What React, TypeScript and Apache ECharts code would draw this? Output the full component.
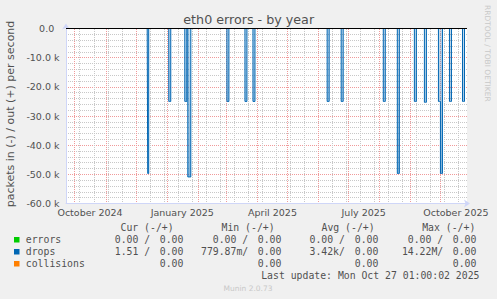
import React, { useEffect, useRef } from 'react';
import * as echarts from 'echarts';

const DAY = 86400000;
const rangeStart = Date.UTC(2024, 8, 22, 1, 0, 0);
const rangeDays = 400;
const rangeEnd = rangeStart + rangeDays * DAY;

// drops (in) per day, packets/s; plotted as negative (in = -)
const dropDates = [
  '2024-12-13',
  '2025-01-03', '2025-01-04',
  '2025-01-19', '2025-01-20',
  '2025-01-22', '2025-01-23', '2025-01-24',
  '2025-03-02', '2025-03-03',
  '2025-03-20', '2025-03-21',
  '2025-03-28', '2025-03-29',
  '2025-06-10', '2025-06-11',
  '2025-06-24', '2025-06-25',
  '2025-08-05', '2025-08-06',
  '2025-08-19', '2025-08-20',
  '2025-09-05', '2025-09-06',
  '2025-09-15', '2025-09-16',
  '2025-09-29', '2025-09-30',
  '2025-10-01', '2025-10-02',
  '2025-10-10', '2025-10-11',
  '2025-10-23', '2025-10-24',
];
const dropInValues = [
  49700,
  25000, 25000,
  25000, 25000,
  50900, 50900, 50900,
  25000, 25000,
  25000, 25000,
  25000, 25000,
  25000, 25000,
  25000, 25000,
  25000, 25000,
  49700, 49700,
  25000, 25000,
  25300, 25300,
  25000, 25000,
  49700, 49700,
  25000, 25000,
  25000, 25000,
];

const monthStarts = [
  '2024-10-01', '2024-11-01', '2024-12-01', '2025-01-01', '2025-02-01', '2025-03-01',
  '2025-04-01', '2025-05-01', '2025-06-01', '2025-07-01', '2025-08-01', '2025-09-01', '2025-10-01',
];
const firstMinorGrid = '2024-10-06';
const xLabelDates = ['2024-10-16', '2025-01-16', '2025-04-16', '2025-07-16', '2025-10-16'];
const monthNames = ['January', 'February', 'March', 'April', 'May', 'June', 'July', 'August', 'September', 'October', 'November', 'December'];

const legendHeaders = ['Cur (-/+)', 'Min (-/+)', 'Avg (-/+)', 'Max (-/+)'];
const errorsIn = ['0.00', '0.00', '0.00', '0.00'];
const errorsOut = ['0.00', '0.00', '0.00', '0.00'];
const dropsIn = ['1.51', '779.87m', '3.42k', '14.22M'];
const dropsOut = ['0.00', '0.00', '0.00', '0.00'];
const collisionsVals = ['0.00', '0.00', '0.00', '0.00'];
const lastUpdate = 'Last update: Mon Oct 27 01:00:02 2025';

const parseDate = (s: string, h = 0) => {
  const [y, m, d] = s.split('-').map(Number);
  return Date.UTC(y, m - 1, d, h, 0, 0);
};

const TEXT = '#505050';
const SANS = 'DejaVu Sans';
const MONO = 'DejaVu Sans Mono';
const MINOR = '#C8C8C8';
const MAJOR = '#F09A9A';

export default function App() {
  const ref = useRef<HTMLDivElement>(null);
  useEffect(() => {
    if (!ref.current) return;
    const chart = echarts.init(ref.current, undefined, { renderer: 'svg' });

    const lookup = new Map<number, number>();
    dropDates.forEach((d, i) => lookup.set(parseDate(d, 1), dropInValues[i]));
    const dropsData: [number, number][] = [];
    for (let i = 0; i <= rangeDays; i++) {
      const t = rangeStart + i * DAY;
      dropsData.push([t, -(lookup.get(t) ?? 0)]);
    }

    // vertical grid: [time, kind] (kind 0 = minor / two-weekly, 1 = major / month start)
    const vGrid: number[][] = [];
    for (let t = parseDate(firstMinorGrid); t < rangeEnd; t += 14 * DAY) vGrid.push([t, 0]);
    monthStarts.forEach((d) => vGrid.push([parseDate(d), 1]));

    const labelTs = xLabelDates.map((d) => parseDate(d));

    const mono = (text: string, x: number, y: number, align = 'left', fill = TEXT) => ({
      type: 'text',
      x,
      y,
      silent: true,
      style: {
        text,
        fill,
        fontFamily: MONO,
        fontSize: 9.8,
        align,
        verticalAlign: 'middle',
        textAlign: align,
        textVerticalAlign: 'middle',
      },
    });

    const inEnds = [150.2, 248.2, 344.9, 443.2];
    const outStarts = [159.8, 257.8, 354.8, 452.8];
    const headerStarts = [120.5, 221.5, 321.5, 422.2];
    const rowY = [239.7, 251.7, 263.7];
    const fmtIn = (v: string) => v + (/[a-zA-Z]$/.test(v) ? '' : ' ') + '/';

    const graphics: any[] = [
      {
        type: 'text',
        x: 248.7,
        y: 19,
        silent: true,
        style: {
          text: 'eth0 errors - by year', fill: TEXT, fontFamily: SANS, fontSize: 12.7,
          align: 'center', verticalAlign: 'middle', textAlign: 'center', textVerticalAlign: 'middle',
        },
      },
      {
        type: 'text',
        x: 10,
        y: 114,
        rotation: Math.PI / 2,
        silent: true,
        style: {
          text: 'packets in (-) / out (+) per second', fill: TEXT, fontFamily: SANS, fontSize: 11,
          align: 'center', verticalAlign: 'middle', textAlign: 'center', textVerticalAlign: 'middle',
        },
      },
      {
        type: 'text',
        x: 487.5,
        y: 53.3,
        rotation: -Math.PI / 2,
        silent: true,
        style: {
          text: 'RRDTOOL / TOBI OETIKER', fill: '#c8c8c8', fontFamily: SANS, fontSize: 7.5,
          align: 'center', verticalAlign: 'middle', textAlign: 'center', textVerticalAlign: 'middle',
        },
      },
    ];
    legendHeaders.forEach((h, i) => graphics.push(mono(h, headerStarts[i], 227.7)));
    const names = ['errors', 'drops', 'collisions'];
    const colors = ['#00CC00', '#0066B3', '#FF8000'];
    names.forEach((n, r) => {
      graphics.push({ type: 'rect', silent: true, shape: { x: 14, y: rowY[r] - 2.7, width: 5.5, height: 5.5 }, style: { fill: colors[r] } });
      graphics.push(mono(n, 25.8, rowY[r]));
    });
    for (let i = 0; i < 4; i++) {
      graphics.push(mono(fmtIn(errorsIn[i]), inEnds[i], rowY[0], 'right'));
      graphics.push(mono(errorsOut[i], outStarts[i], rowY[0]));
      graphics.push(mono(fmtIn(dropsIn[i]), inEnds[i], rowY[1], 'right'));
      graphics.push(mono(dropsOut[i], outStarts[i], rowY[1]));
      graphics.push(mono(collisionsVals[i], outStarts[i], rowY[2]));
    }
    graphics.push(mono(lastUpdate, 261.2, 275.7));
    graphics.push({
      type: 'text',
      x: 248,
      y: 288,
      silent: true,
      style: {
        text: 'Munin 2.0.73', fill: '#c8c8c8', fontFamily: SANS, fontSize: 7.5,
        align: 'center', verticalAlign: 'middle', textAlign: 'center', textVerticalAlign: 'middle',
      },
    });

    const option: any = {
      animation: false,
      backgroundColor: '#F0F0F0',
      grid: { left: 66, top: 28.5, width: 401, height: 175, show: true, backgroundColor: '#FFFFFF', borderWidth: 0 },
      xAxis: [
        {
          type: 'value',
          min: rangeStart,
          max: rangeEnd,
          axisLine: {
            show: true,
            onZero: false,
            lineStyle: { color: '#CFD6F8', width: 1 },
            symbol: ['none', 'arrow'],
            symbolSize: [6, 6],
            symbolOffset: [0, 3],
          },
          axisTick: { show: false },
          splitLine: { show: false },
          axisLabel: {
            customValues: labelTs,
            formatter: (v: number) => {
              const d = new Date(v);
              return monthNames[d.getUTCMonth()] + ' ' + d.getUTCFullYear();
            },
            color: TEXT,
            fontFamily: SANS,
            fontSize: 9.5,
            margin: 4,
            hideOverlap: false,
            showMinLabel: true,
            showMaxLabel: true,
          },
        },
      ],
      yAxis: [
        {
          type: 'value',
          min: -60000,
          max: 0,
          interval: 10000,
          axisLine: {
            show: true,
            lineStyle: { color: '#CFD6F8', width: 1 },
            symbol: ['none', 'arrow'],
            symbolSize: [6, 6],
            symbolOffset: [0, 5],
          },
          axisTick: { show: false },
          splitLine: { show: true, lineStyle: { color: MAJOR, width: 1, type: [1, 1] } },
          minorTick: { show: false, splitNumber: 5 },
          minorSplitLine: { show: true, lineStyle: { color: MINOR, width: 1, type: [1, 1] } },
          axisLabel: {
            color: TEXT,
            fontFamily: SANS,
            fontSize: 9.5,
            margin: 6.5,
            formatter: (v: number) => (v === 0 ? '{z|0.0}' : '{n|' + (v / 1000).toFixed(1) + ' k}'),
            rich: {
              z: { color: TEXT, fontFamily: SANS, fontSize: 9.5, padding: [0, 5.3, 0, 0] },
              n: { color: TEXT, fontFamily: SANS, fontSize: 9.5 },
            },
          },
        },
      ],
      series: [
        {
          type: 'custom',
          name: 'vgrid',
          data: vGrid,
          dimensions: ['t', 'kind'],
          encode: { x: 't' },
          z: 1,
          silent: true,
          clip: false,
          renderItem: (params: any, api: any) => {
            const x = api.coord([api.value(0), 0])[0];
            const xs = Math.round(x - 0.5) + 0.5;
            const cs = params.coordSys;
            const major = api.value(1) === 1;
            return {
              type: 'line',
              silent: true,
              z2: major ? 2 : 1,
              shape: { x1: xs, y1: Math.ceil(cs.y), x2: xs, y2: Math.floor(cs.y + cs.height) },
              style: { stroke: major ? MAJOR : MINOR, lineWidth: 1, lineDash: [1, 1], fill: null },
            };
          },
        },
        {
          type: 'line',
          name: 'drops',
          data: dropsData,
          z: 2,
          step: 'middle',
          showSymbol: false,
          symbol: 'none',
          lineStyle: { color: '#0066B3', width: 1 },
          itemStyle: { color: '#0066B3' },
          areaStyle: {
            color: new echarts.graphic.LinearGradient(0, 0, 0, 1, [
              { offset: 0, color: 'rgba(0,102,179,0.3)' },
              { offset: 1, color: 'rgba(0,102,179,0.7)' },
            ]),
          },
          silent: true,
        },
        {
          type: 'line',
          name: 'zero',
          data: [],
          z: 3,
          silent: true,
          markLine: {
            silent: true,
            symbol: ['none', 'none'],
            label: { show: false },
            animation: false,
            lineStyle: { color: '#000000', width: 1, type: 'solid' },
            data: [{ yAxis: 0 }],
          },
        },
      ],
      graphic: graphics,
    };
    chart.setOption(option);
    return () => chart.dispose();
  }, []);

  return (
    <div
      ref={ref}
      style={{ position: 'fixed', left: 0, top: 0, width: 497, height: 299, background: '#F0F0F0' }}
    />
  );
}
